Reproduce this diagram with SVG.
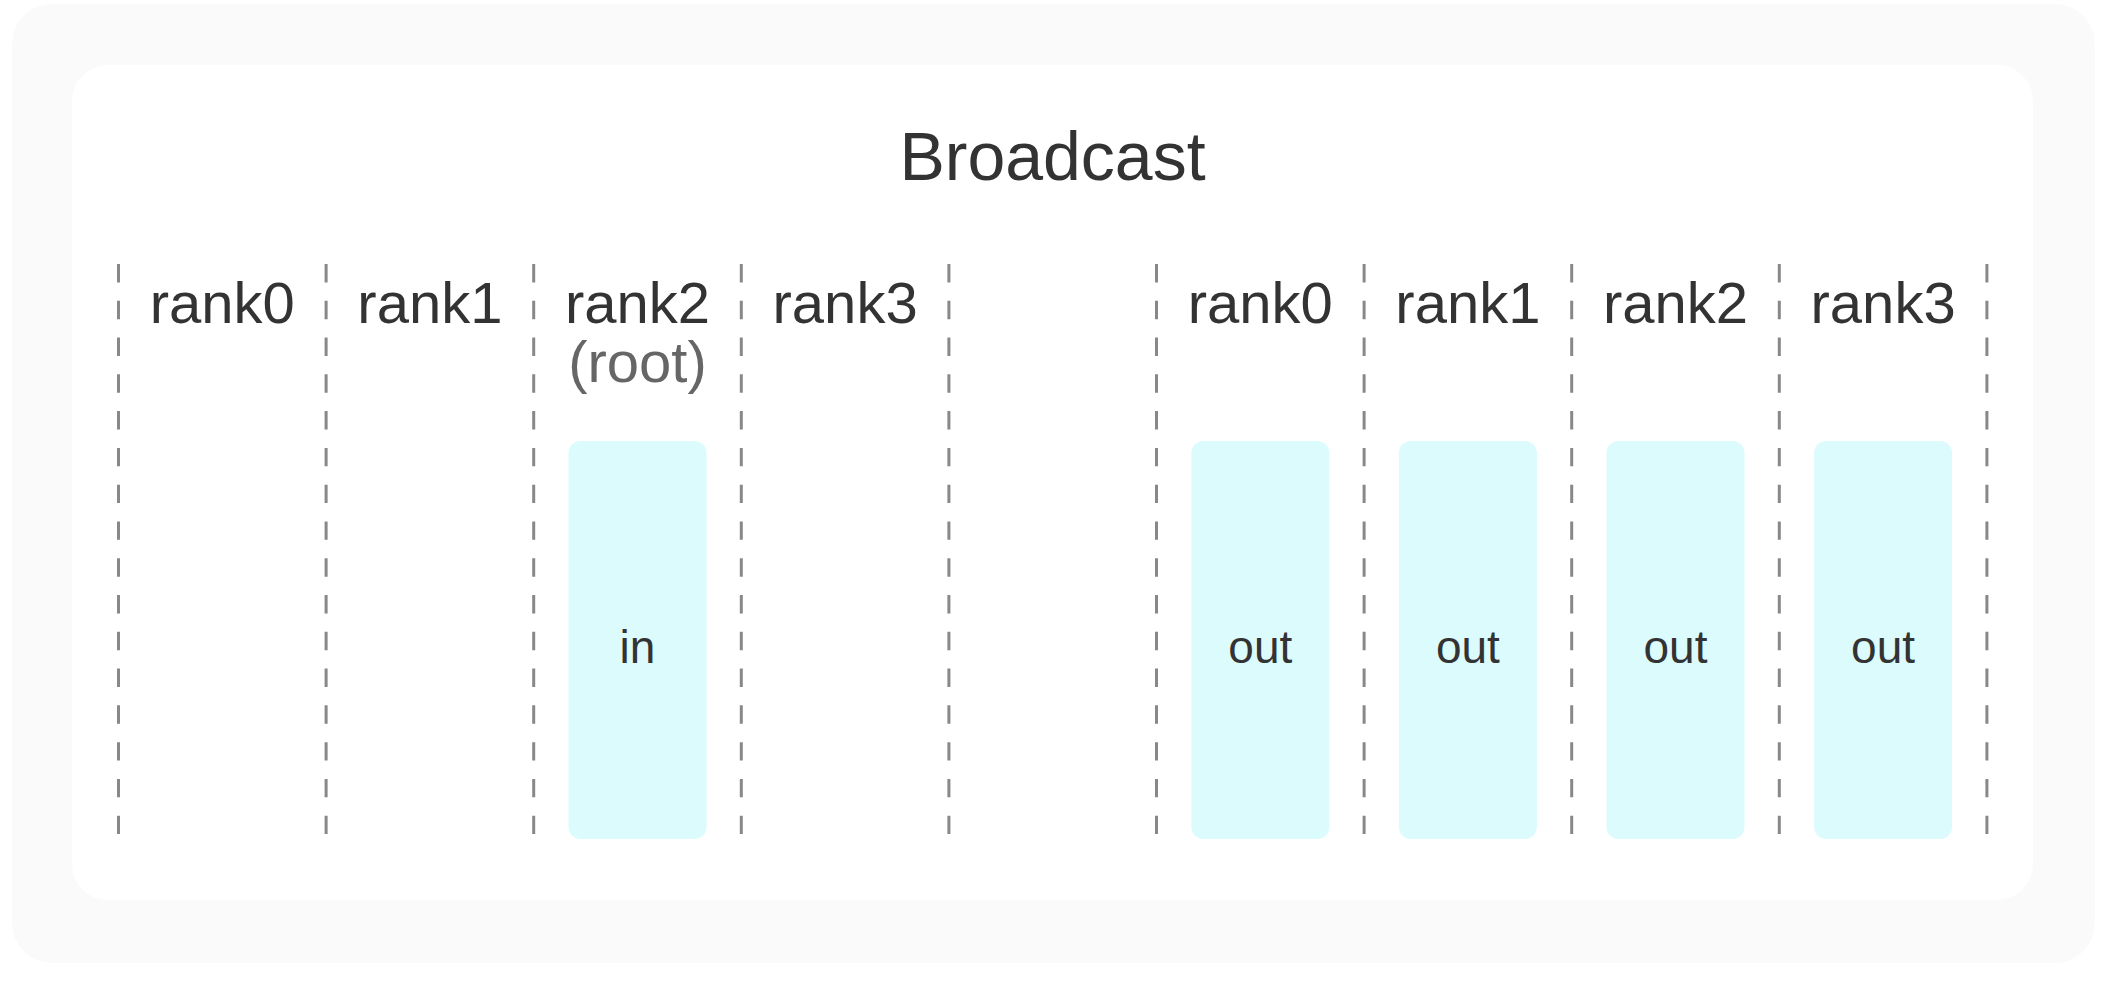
<svg xmlns="http://www.w3.org/2000/svg" width="2102" height="990" viewBox="0 0 2102 990">
  <style>
    .lbl { font-family: "Liberation Sans", Arial, sans-serif; fill: #333333; text-anchor: middle; }
    .rank { font-size: 58px; }
    .root { font-size: 58px; fill: #666666; }
    .title { font-size: 68px; }
    .box { fill: #dcfbfd; }
    .boxtxt { font-size: 46px; }
    .dash { stroke: #888888; stroke-width: 3; stroke-dasharray: 18.39 18.39; fill: none; }
  </style>
  <rect x="12" y="4" width="2083" height="959" rx="40" fill="#fafafa"/>
  <rect x="72" y="65" width="1961" height="835" rx="36" fill="#ffffff"/>
  <g id="title"><text class="lbl title" x="1052.5" y="180">Broadcast</text></g>
  <g id="dividers">
    <line class="dash" x1="118.5" y1="264" x2="118.5" y2="834"/>
    <line class="dash" x1="326.1" y1="264" x2="326.1" y2="834"/>
    <line class="dash" x1="533.7" y1="264" x2="533.7" y2="834"/>
    <line class="dash" x1="741.3" y1="264" x2="741.3" y2="834"/>
    <line class="dash" x1="948.9" y1="264" x2="948.9" y2="834"/>
    <line class="dash" x1="1156.5" y1="264" x2="1156.5" y2="834"/>
    <line class="dash" x1="1364.1" y1="264" x2="1364.1" y2="834"/>
    <line class="dash" x1="1571.7" y1="264" x2="1571.7" y2="834"/>
    <line class="dash" x1="1779.3" y1="264" x2="1779.3" y2="834"/>
    <line class="dash" x1="1986.9" y1="264" x2="1986.9" y2="834"/>
  </g>
  <g id="before-rank0"><text class="lbl rank" x="222.3" y="323">rank0</text></g>
  <g id="before-rank1"><text class="lbl rank" x="429.9" y="323">rank1</text></g>
  <g id="before-rank2">
    <text class="lbl rank" x="637.5" y="323">rank2</text>
    <text class="lbl root" x="637.5" y="382">(root)</text>
    <rect class="box" x="568.5" y="441" width="138" height="398" rx="12"/>
    <text class="lbl boxtxt" x="637.5" y="663">in</text>
  </g>
  <g id="before-rank3"><text class="lbl rank" x="845.1" y="323">rank3</text></g>
  <g id="after-rank0">
    <text class="lbl rank" x="1260.3" y="323">rank0</text>
    <rect class="box" x="1191.3" y="441" width="138" height="398" rx="12"/>
    <text class="lbl boxtxt" x="1260.3" y="663">out</text>
  </g>
  <g id="after-rank1">
    <text class="lbl rank" x="1467.9" y="323">rank1</text>
    <rect class="box" x="1398.9" y="441" width="138" height="398" rx="12"/>
    <text class="lbl boxtxt" x="1467.9" y="663">out</text>
  </g>
  <g id="after-rank2">
    <text class="lbl rank" x="1675.5" y="323">rank2</text>
    <rect class="box" x="1606.5" y="441" width="138" height="398" rx="12"/>
    <text class="lbl boxtxt" x="1675.5" y="663">out</text>
  </g>
  <g id="after-rank3">
    <text class="lbl rank" x="1883.1" y="323">rank3</text>
    <rect class="box" x="1814.1" y="441" width="138" height="398" rx="12"/>
    <text class="lbl boxtxt" x="1883.1" y="663">out</text>
  </g>
</svg>
